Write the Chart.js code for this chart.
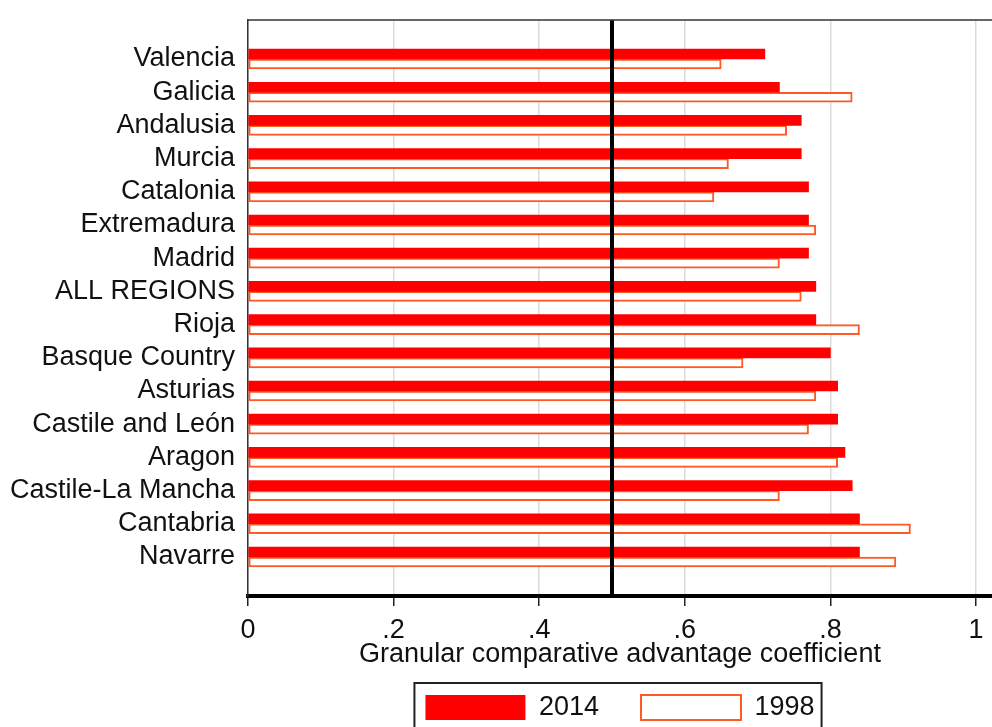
<!DOCTYPE html>
<html>
<head>
<meta charset="utf-8">
<script src="https://cdn.jsdelivr.net/npm/chart.js@4/dist/chart.umd.min.js"></script>
<style>
    html, body { margin: 0; padding: 0; background: #fff; }
    #wrap { width: 992px; height: 727px; }
</style>
</head>
<body>
<div id="wrap"><canvas id="gcaChart"></canvas></div>
<script>
/* Granular comparative advantage by region, 2014 vs 1998 */

const regions = ['Valencia', 'Galicia', 'Andalusia', 'Murcia', 'Catalonia', 'Extremadura', 'Madrid', 'ALL REGIONS',
    'Rioja', 'Basque Country', 'Asturias', 'Castile and León', 'Aragon', 'Castile-La Mancha', 'Cantabria', 'Navarre'];
const gca2014 = [0.71, 0.73, 0.76, 0.76, 0.77, 0.77, 0.77, 0.78, 0.78, 0.80, 0.81, 0.81, 0.82, 0.83, 0.84, 0.84];
const gca1998 = [0.65, 0.83, 0.74, 0.66, 0.64, 0.78, 0.73, 0.76, 0.84, 0.68, 0.78, 0.77, 0.81, 0.73, 0.91, 0.89];
const xTicks = [0, 0.2, 0.4, 0.6, 0.8, 1];
const threshold = 0.5;

const FONT = { family: "'Liberation Sans', Arial, sans-serif", size: 27 };
const TEXT = '#111';

// frame top line, threshold line and legend box
const extras = {
    id: 'extras',
    afterDatasetsDraw(chart) {
        const { ctx, chartArea: a, scales: { x } } = chart;
        const px = x.getPixelForValue(threshold);
        ctx.save();
        ctx.strokeStyle = '#000';
        ctx.lineWidth = 4;
        ctx.beginPath();
        ctx.moveTo(px, a.top);
        ctx.lineTo(px, a.bottom);
        ctx.stroke();
        ctx.strokeStyle = '#333';
        ctx.lineWidth = 1.5;
        ctx.beginPath();
        ctx.moveTo(a.left, a.top);
        ctx.lineTo(a.right, a.top);
        ctx.stroke();
        ctx.restore();
    },
    afterDraw(chart) {
        const hb = chart.legend && chart.legend.legendHitBoxes;
        if (!hb || !hb.length) return;
        const first = hb[0], last = hb[hb.length - 1];
        const ctx = chart.ctx;
        ctx.save();
        ctx.strokeStyle = '#222';
        ctx.lineWidth = 2;
        ctx.strokeRect(first.left - 11, first.top - 11, last.left + last.width - first.left + 18, 80);
        ctx.restore();
    }
};

function noPad(s) {
    s.paddingTop = 0; s.paddingBottom = 0; s.paddingLeft = 0; s.paddingRight = 0;
}

function renderChart() {
    const ctx = document.getElementById('gcaChart');
    new Chart(ctx, {
        type: 'bar',
        data: {
            datasets: [
                { label: '2014', data: gca2014.map((v, i) => ({ x: v, y: i })), backgroundColor: '#ff0000', borderWidth: 0, barThickness: 10 },
                { label: '1998', data: gca1998.map((v, i) => ({ x: v, y: i })), backgroundColor: '#ffffff', borderColor: '#ff5a24', borderWidth: 2, borderSkipped: false, barThickness: 10 }
            ]
        },
        options: {
            indexAxis: 'y',
            responsive: true, maintainAspectRatio: false, animation: false,
            layout: { padding: { left: 0, right: 0, top: 20, bottom: -4 } },
            plugins: {
                legend: {
                    position: 'bottom', fullSize: false,
                    labels: { boxWidth: 100, boxHeight: 25, padding: 42, font: FONT, color: TEXT }
                },
                tooltip: { enabled: false }
            },
            scales: {
                x: {
                    type: 'linear', min: 0, max: 1.022,
                    afterBuildTicks: s => { s.ticks = xTicks.map(v => ({ value: v })); },
                    afterFit: s => { s.height = 56; noPad(s); },
                    ticks: {
                        callback: v => (v === 0 || v === 1) ? String(v) : String(v).replace(/^0/, ''),
                        font: FONT, color: TEXT, padding: 8, maxRotation: 0, autoSkip: false
                    },
                    grid: { color: '#dcdcdc', lineWidth: 1.5, tickColor: '#222', tickLength: 10, tickWidth: 1.5 },
                    border: { display: true, color: '#000', width: 4 },
                    title: {
                        display: true, text: 'Granular comparative advantage coefficient',
                        font: FONT, color: TEXT, padding: { top: 0, bottom: -18.5 }
                    }
                },
                y: {
                    type: 'linear', reverse: true, offset: false, min: -1.175, max: 16.175,
                    afterBuildTicks: s => { s.ticks = regions.map((_, i) => ({ value: i })); },
                    afterFit: s => { s.width = 248; noPad(s); },
                    ticks: { callback: v => regions[v], font: FONT, color: TEXT, padding: 13, autoSkip: false },
                    grid: { display: false, drawTicks: false, offset: false },
                    border: { display: true, color: '#333', width: 1.5 }
                }
            }
        },
        plugins: [extras]
    });
}

document.addEventListener('DOMContentLoaded', renderChart);
</script>
</body>
</html>
